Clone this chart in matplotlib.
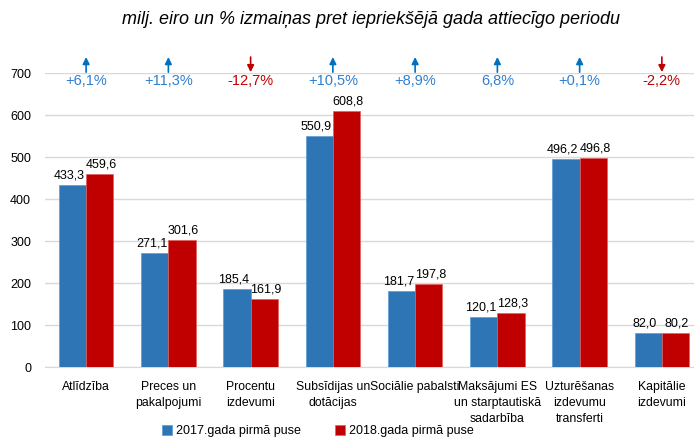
import matplotlib
matplotlib.use('Agg')
import matplotlib.pyplot as plt
import numpy as np

plt.rcParams['font.family'] = ['Liberation Sans', 'DejaVu Sans']

categories = ['Atlīdzība', 'Preces un\npakalpojumi', 'Procentu\nizdevumi', 'Subsīdijas un\ndotācijas',
              'Sociālie pabalsti', 'Maksājumi ES\nun starptautiskā\nsadarbība', 'Uzturēšanas\nizdevumu\ntransferti',
              'Kapitālie\nizdevumi']
v2017 = [433.3, 271.1, 185.4, 550.9, 181.7, 120.1, 496.2, 82.0]
v2018 = [459.6, 301.6, 161.9, 608.8, 197.8, 128.3, 496.8, 80.2]
changes = ['+6,1%', '+11,3%', '-12,7%', '+10,5%', '+8,9%', '6,8%', '+0,1%', '-2,2%']
up = [True, True, False, True, True, True, True, False]

blue = '#2E75B6'
red = '#C00000'
txt_blue = '#2F7FD0'

fig = plt.figure(figsize=(6.94, 4.41), dpi=100)
ax = fig.add_axes([45 / 694, 74 / 441, 658 / 694, 294 / 441])

x = np.arange(len(categories))
w = 0.33
ax.bar(x - w / 2, v2017, w, color=blue, edgecolor='#5B9BD5', linewidth=0.5,
       label='2017.gada pirmā puse', zorder=3)
ax.bar(x + w / 2, v2018, w, color=red, edgecolor='#E06060', linewidth=0.5,
       label='2018.gada pirmā puse', zorder=3)

for i in range(len(categories)):
    ax.text(x[i] - w / 2 - 0.04, v2017[i] + 8, f'{v2017[i]:.1f}'.replace('.', ','),
            ha='center', va='bottom', fontsize=9)
    ax.text(x[i] + w / 2 + 0.02, v2018[i] + 8, f'{v2018[i]:.1f}'.replace('.', ','),
            ha='center', va='bottom', fontsize=9)
    tcol = txt_blue if up[i] else red
    if up[i]:
        ax.annotate('', xy=(x[i], 738), xytext=(x[i], 702), annotation_clip=False,
                    arrowprops=dict(arrowstyle='-|>', color='#0070C0', lw=1.2, mutation_scale=10,
                                    shrinkA=0, shrinkB=0))
    else:
        ax.annotate('', xy=(x[i], 702), xytext=(x[i], 738), annotation_clip=False,
                    arrowprops=dict(arrowstyle='-|>', color=red, lw=1.2, mutation_scale=10,
                                    shrinkA=0, shrinkB=0))
    ax.text(x[i], 681, changes[i], ha='center', va='center', fontsize=10.5, color=tcol)

ax.set_xlim(-0.5, len(categories) - 0.5)
ax.set_ylim(0, 700)
ax.set_yticks(range(0, 701, 100))
ax.set_xticks(x)
ax.set_xticklabels(categories, fontsize=8.8, linespacing=1.45, va='top')
ax.tick_params(axis='x', length=0, pad=10)
ax.tick_params(axis='y', length=0, labelsize=9, pad=10)
ax.grid(axis='y', color='#D9D9D9', linewidth=1, zorder=0)
for s in ['top', 'right', 'left']:
    ax.spines[s].set_visible(False)
ax.spines['bottom'].set_color('#D9D9D9')

fig.text(0.535, 0.955, 'milj. eiro un % izmaiņas pret iepriekšējā gada attiecīgo periodu',
         ha='center', va='center', fontsize=13, style='italic')

fig.legend(loc='center', bbox_to_anchor=(0.458, 0.022), ncol=2, frameon=False, fontsize=9,
           handlelength=0.8, handleheight=0.8, handletextpad=0.3, columnspacing=2.8)

fig.savefig('out.png', dpi=100)
